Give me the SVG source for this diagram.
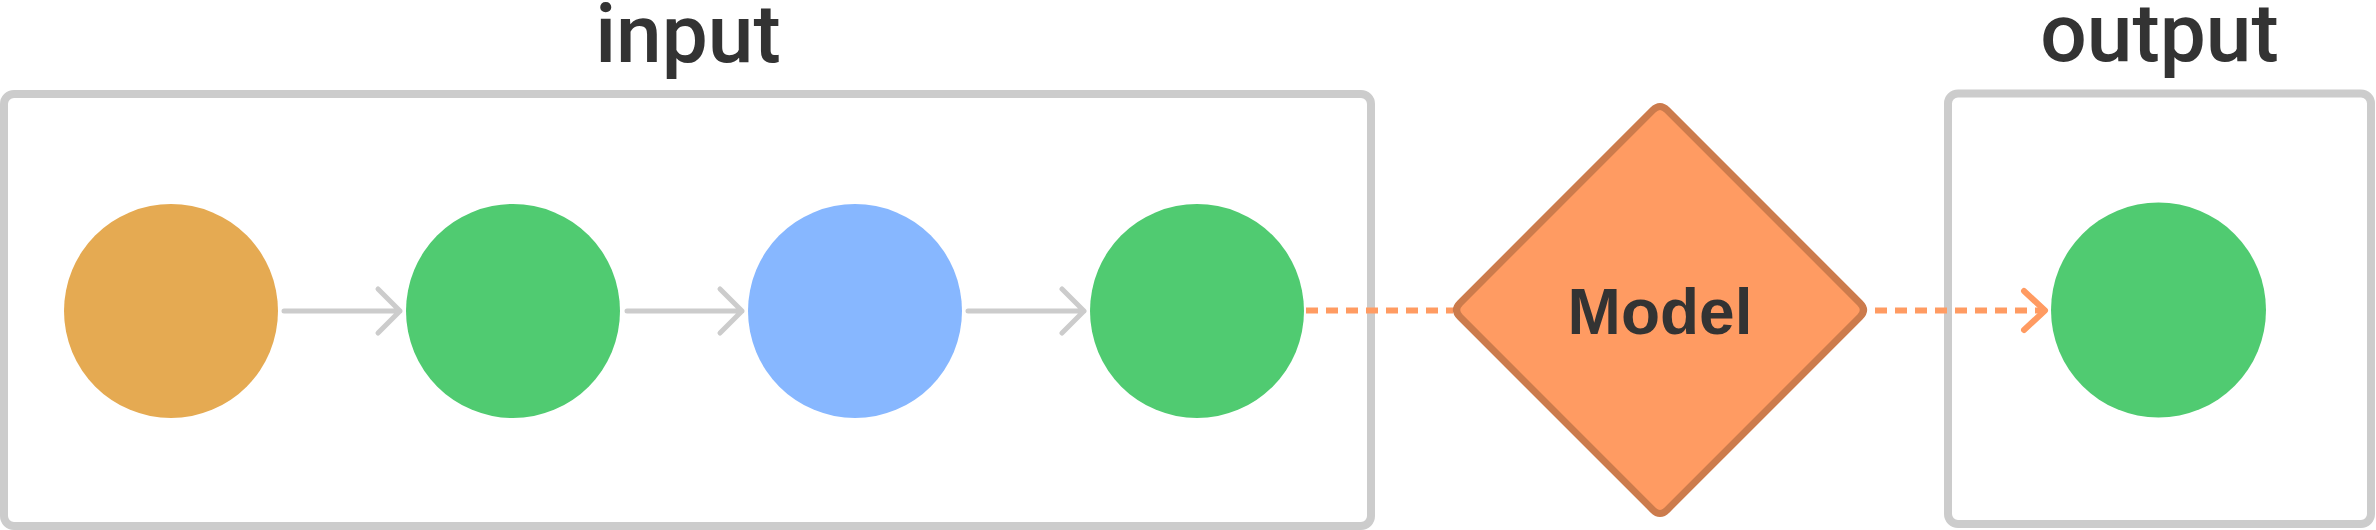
<svg xmlns="http://www.w3.org/2000/svg" width="2376" height="530" viewBox="0 0 2376 530">
  <style>
    .box { fill: #ffffff; stroke: #cccccc; stroke-width: 8; }
    .label { font-family: Roboto, "Liberation Sans", sans-serif; font-size: 82px; font-weight: 500; fill: #333333; text-anchor: middle; }
    .gray { fill: none; stroke: #cccccc; stroke-width: 5; stroke-linecap: round; stroke-linejoin: round; }
    .dash { fill: none; stroke: #ff9b62; stroke-width: 6; stroke-dasharray: 12 8; }
    .head { fill: none; stroke: #ff9b62; stroke-width: 6; stroke-linecap: round; stroke-linejoin: round; }
    .model { font-family: "Liberation Sans", Arial, sans-serif; font-weight: bold; font-size: 64px; fill: #333333; text-anchor: middle; }
  </style>
  <rect width="2376" height="530" fill="#ffffff"/>
  <g id="input-group">
    <rect class="box" x="4" y="94" width="1367" height="432" rx="10"/>
    <text class="label" x="688" y="62">input</text>
  </g>
  <g id="output-group">
    <rect class="box" x="1948" y="93.5" width="423" height="430.5" rx="10"/>
    <text class="label" x="2159.5" y="61">output</text>
  </g>
  <g id="connectors">
    <path class="gray" d="M284 311 L400 311 M378 289 L400 311 L378 333"/>
    <path class="gray" d="M627 311 L742 311 M720 289 L742 311 L720 333"/>
    <path class="gray" d="M968 311 L1084 311 M1062 289 L1084 311 L1062 333"/>
    <path class="dash" d="M1306 310.5 L1453 310.5"/>
    <path class="dash" d="M1875 310.5 L2042 310.5"/>
    <path class="head" d="M2024 291 L2045 310.5 L2024 330"/>
  </g>
  <g id="node-1"><circle cx="171" cy="311" r="107" fill="#e5aa52"/></g>
  <g id="node-2"><circle cx="513" cy="311" r="107" fill="#50cb71"/></g>
  <g id="node-3"><circle cx="855" cy="311" r="107" fill="#87b7ff"/></g>
  <g id="node-4"><circle cx="1197" cy="311" r="107" fill="#50cb71"/></g>
  <g id="model">
    <path d="M1652.93 110.07 Q1660 103 1667.07 110.07 L1859.93 302.93 Q1867 310 1859.93 317.07 L1667.07 509.93 Q1660 517 1652.93 509.93 L1460.07 317.07 Q1453 310 1460.07 302.93 Z" fill="#ff9b62" stroke="#cc7b4c" stroke-width="7" stroke-linejoin="round"/>
    <text class="model" x="1660" y="334">Model</text>
  </g>
  <g id="node-out"><circle cx="2158.5" cy="310" r="107.5" fill="#50cb71"/></g>
</svg>
